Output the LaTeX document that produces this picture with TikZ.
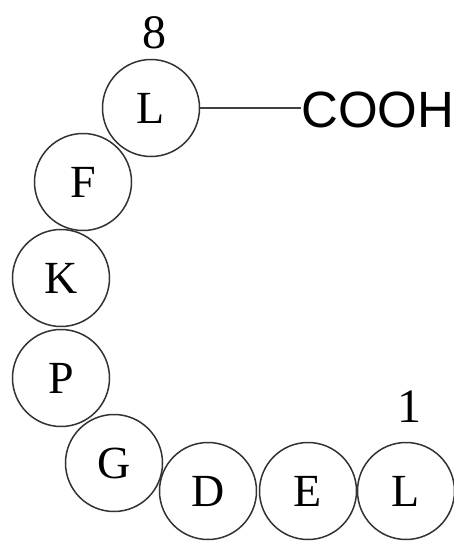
\documentclass[tikz,border=0pt]{standalone}
\usepackage{fontspec}
\setmainfont{Liberation Serif}
\newfontfamily\cooh{Liberation Sans}
\begin{document}
\begin{tikzpicture}[x=1pt,y=-1pt,
  res/.style={circle,draw=black!80,line width=1.5pt,minimum size=97pt,inner sep=0pt,font=\fontsize{46}{46}\selectfont},
  num/.style={font=\fontsize{48}{48}\selectfont,inner sep=0pt},
  bond/.style={draw=black!75,line width=1.1pt}]
\useasboundingbox (0,0) rectangle (454,544);
\node[res] (L8) at (151,108) {L};
\node[res] (F) at (83,182) {F};
\node[res] (K) at (61,278) {K};
\node[res] (P) at (61,378) {P};
\node[res] (G) at (114,463) {G};
\node[res] (D) at (208,491) {D};
\node[res] (E) at (308,491) {E};
\node[res] (L1) at (406,491) {L};
\node[num] (n8) at (154,33) {8};
\node[num] (n1) at (409,407) {1};
\node[font=\cooh\fontsize{51}{51}\selectfont,inner sep=0pt,anchor=west] (C) at (301,110) {COOH};
\draw[bond] (L8.east) -- (L8.east -| C.west);
\end{tikzpicture}
\end{document}
